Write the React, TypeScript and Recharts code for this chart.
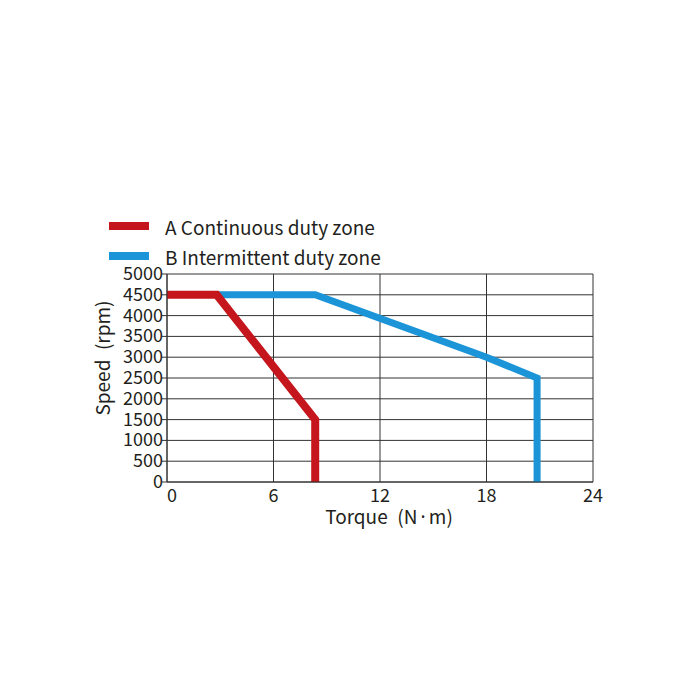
import React from 'react';
import { LineChart, Line, XAxis, YAxis, CartesianGrid } from 'recharts';

const torqueTicks = [0, 6, 12, 18, 24];
const speedTicks = [0, 500, 1000, 1500, 2000, 2500, 3000, 3500, 4000, 4500, 5000];

// continuous duty zone (A)
const zoneA = [
  { torque: 0, speed: 4500 },
  { torque: 2.8, speed: 4500 },
  { torque: 8.35, speed: 1500 },
  { torque: 8.35, speed: 0 },
];

// intermittent duty zone (B)
const zoneB = [
  { torque: 2.8, speed: 4500 },
  { torque: 8.35, speed: 4500 },
  { torque: 18, speed: 3000 },
  { torque: 20.85, speed: 2500 },
  { torque: 20.85, speed: 0 },
];

const RED = '#c4161c';
const BLUE = '#1b95d7';
const TEXT = '#231f20';
const GRID = '#333333';
const FONT = '"Noto Sans CJK SC", "Noto Sans", sans-serif';

const legendItems = [
  { label: 'A Continuous duty zone', color: RED },
  { label: 'B Intermittent duty zone', color: BLUE },
];

function XTick({ x, y, payload }: any) {
  const v = payload.value;
  const anchor = v === 0 ? 'start' : 'middle';
  return (
    <text x={x} y={y + 12} textAnchor={anchor} fill={TEXT} fontSize={18} fontFamily={FONT}>
      {v}
    </text>
  );
}

function YTick({ x, y, payload }: any) {
  return (
    <text x={x + 3} y={y + 6} textAnchor="end" fill={TEXT} fontSize={18} fontFamily={FONT}>
      {payload.value}
    </text>
  );
}

function TorqueLabel({ viewBox }: any) {
  const cx = viewBox.x + viewBox.width / 2 + 9;
  return (
    <text x={cx} y={viewBox.y + 42} textAnchor="middle" fill={TEXT} fontSize={19} fontFamily={FONT}>
      Torque{'\u2002'}(N
      <tspan fontFamily='"Noto Sans", sans-serif'>{'\u2009·\u2009'}</tspan>
      m)
    </text>
  );
}

function ChartLegend() {
  return (
    <div style={{ position: 'absolute', left: 109, top: 211, fontFamily: FONT, zIndex: 1 }}>
      {legendItems.map((item) => (
        <div key={item.label} style={{ display: 'flex', alignItems: 'center', height: 30 }}>
          <span style={{ display: 'inline-block', width: 40, height: 8, background: item.color, marginRight: 16 }} />
          <span style={{ fontSize: 19, color: TEXT }}>{item.label}</span>
        </div>
      ))}
    </div>
  );
}

export default function App() {
  return (
    <div style={{ position: 'absolute', left: 0, top: 0, width: 700, height: 700, background: '#fff' }}>
      <ChartLegend />
      <LineChart width={700} height={700} margin={{ top: 274, right: 107, bottom: 188, left: 107 }}>
        <CartesianGrid stroke={GRID} strokeWidth={1} />
        <XAxis
          type="number"
          dataKey="torque"
          domain={[0, 24]}
          ticks={torqueTicks}
          interval={0}
          tick={<XTick />}
          tickLine={false}
          axisLine={{ stroke: GRID }}
          height={30}
          label={<TorqueLabel />}
        />
        <YAxis
          type="number"
          dataKey="speed"
          domain={[0, 5000]}
          ticks={speedTicks}
          interval={0}
          tick={<YTick />}
          tickSize={5}
          tickLine={{ stroke: GRID }}
          axisLine={{ stroke: GRID }}
          width={60}
          label={{ value: 'Speed\u2002(rpm)', angle: -90, position: 'insideLeft', dx: -9, dy: -20, fill: TEXT, fontSize: 19, fontFamily: FONT, style: { textAnchor: 'middle' } }}
        />
        <Line data={zoneB} dataKey="speed" stroke={BLUE} strokeWidth={7} dot={false} isAnimationActive={false} strokeLinejoin="miter" />
        <Line data={zoneA} dataKey="speed" stroke={RED} strokeWidth={8} dot={false} isAnimationActive={false} strokeLinejoin="miter" />
      </LineChart>
    </div>
  );
}
